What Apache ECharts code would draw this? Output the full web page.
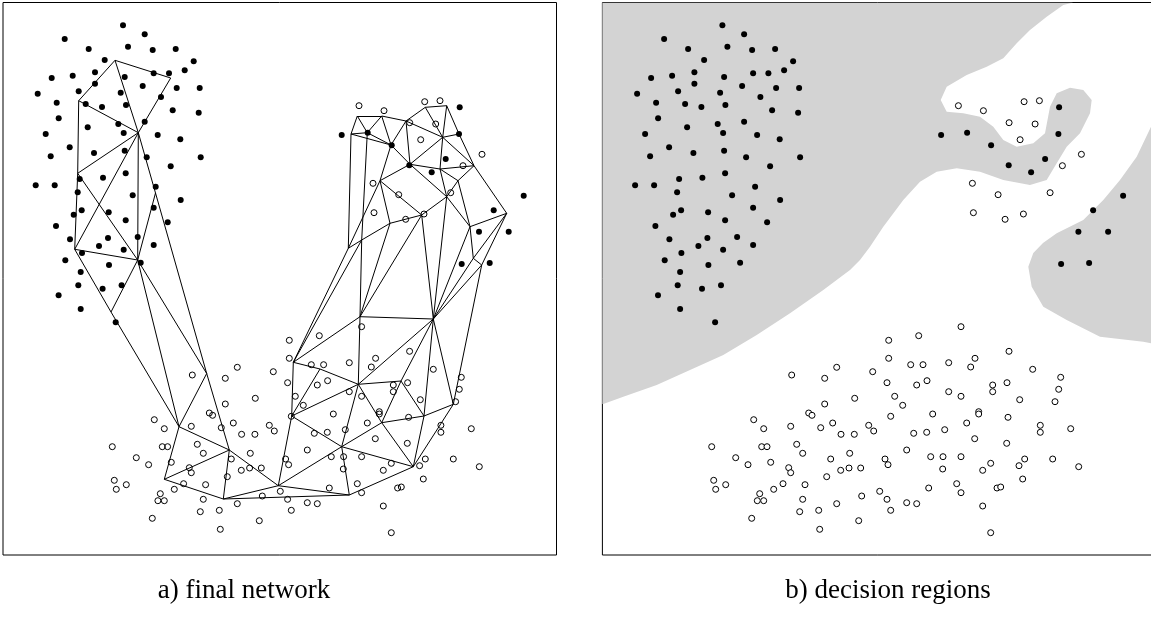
<!DOCTYPE html>
<html><head><meta charset="utf-8">
<script src="https://cdn.jsdelivr.net/npm/echarts@6/dist/echarts.min.js"></script>
<style>html,body{margin:0;padding:0;background:#fff}#chart{width:1151px;height:635px}</style>
</head><body><div id="chart"></div>
<script>
// Coordinates are in the data space of one panel (x: 3..556.5, y: 2.5..555, y downwards)
const xRange = [3, 556.5];
const yRange = [2.5, 555];

// class 1 samples (filled dots)
const filledPoints = [
[123,25.3],[144.7,34.3],[64.7,39],[88.7,49],[128,46.7],[152.7,50],[175.7,49],[104.7,60],[193.7,61.3],[51.7,78],
[72.7,75.7],[95,72.3],[124.7,77],[153.7,73.3],[169,73.3],[184.7,70.3],[37.7,93.7],[78.7,91.3],[95,83.7],[120.7,92.7],
[142.7,86],[176.7,88],[199.7,88],[56.7,102.7],[85.7,104],[102,107],[126,105],[161,97],[172.7,110.3],[198.7,112.7],
[58.7,118.3],[87.7,127.3],[118.3,124],[123.7,133],[144.7,121.7],[157.7,135],[180.3,139.3],[45.7,134],[69.7,147.3],[50.7,156.3],
[94,153],[124.7,150.7],[146.7,157.3],[170.7,166.3],[200.7,157.3],[35.7,185.3],[54.7,185.3],[79.7,179],[103,177.7],[125.7,173.3],
[77.7,192.3],[132.7,195.3],[155.7,186.7],[180.7,200],[81.7,210.3],[73.7,214.7],[108.7,212.3],[125.7,220.3],[153.7,207.7],[167.7,222.3],
[56,226],[70,239.3],[108,238],[137.7,237],[99,246],[82,253],[123.7,249.7],[153.7,245],[65.3,260.3],[140.7,262.7],
[109,265],[80.7,272],[78.3,285.3],[102.6,288.7],[121.6,285.3],[58.6,295.3],[80.7,309],[115.7,322.3],
[341.7,135],[367.7,132.7],[391.7,145.3],[409.3,165.3],[459.7,107.3],[459,134],[445.7,159],[431.7,172.3],[523.7,195.7],[493.7,210.3],
[479,231.7],[508.7,231.7],[461.7,264],[489.7,263]
];

// class 2 samples (open circles)
const openPoints = [
[359,105.7],[384,110.7],[424.7,101.7],[440,100.7],[409.7,122.7],[435.7,124],[420.7,139.7],[482,154.3],[463,165.7],[373,183.3],
[398.7,194.7],[450.7,192.7],[374,212.7],[405.7,219.3],[424,214],
[361.6,326.7],[319.3,335.7],[289.3,340.3],[409.6,351.3],[289.3,358.3],[375.6,358.3],[237.3,367.3],[311.3,364.7],[323.6,364.7],[349.3,362.7],
[371.3,367],[433.3,369.3],[192.3,375],[273.3,371.7],[225.3,378.3],[461.3,377.3],[287.6,382.7],[317.3,385],[327.6,380.7],[393.3,385],
[407.6,382.7],[349.3,391.7],[393.3,391.7],[459.3,389.3],[255.3,398.3],[295.3,396.3],[361.6,396.3],[420.3,399.7],[225.3,404],[303.3,405.3],
[455.6,401.7],[209.3,413],[212.6,415.3],[291.3,416.3],[333.3,414],[379.3,411.7],[379.3,414],[408.6,417.3],[154.3,419.7],[164.3,428.7],
[191.3,426.3],[221.3,427.7],[233.3,423],[269.3,425.3],[274.3,431],[314.3,433.3],[327.3,432.3],[345.3,429.7],[367.3,423],[440.9,425.3],
[440.9,432.3],[471.3,428.7],[241.6,434.3],[254.9,434.3],[375.3,438.7],[112.3,446.7],[162.3,446.7],[167.6,446.7],[197.3,444.3],[203.3,453.3],
[250.3,453.3],[307.3,450],[407.3,443.3],[136.3,457.7],[148.6,464.7],[171.3,462.3],[231.3,459],[285.6,459],[288.6,464.7],[331.3,456.7],
[343.6,456.7],[361.6,456.7],[391.3,463.3],[419.6,465.7],[425.3,459],[453.3,459],[479.3,466.7],[189.3,467.7],[191.3,472.7],[241.3,470.3],
[249.6,468],[261.3,468],[343.3,469],[383.3,470.3],[227.3,476.7],[114.3,480.3],[116.3,489.3],[126.3,484.7],[183.6,483.7],[205.6,484.7],
[174.3,489.3],[329.3,488],[357.3,483.7],[361.6,492.7],[397.6,488],[401.3,487],[423.3,479],[160.3,493.7],[157.9,500.7],[164.3,500.7],
[203.3,499.3],[262.3,496],[280.3,491.3],[287.6,499.3],[200.3,511.7],[219.3,510.3],[237.3,503.7],[291.3,510.3],[307.3,502.7],[317.3,503.7],
[383.3,506],[152.3,518.3],[259.3,520.7],[220.3,529.3],[391.3,532.7]
];

// network units (panel a)
const netNodes = [
[115,60.3],[170.7,78],[78.7,100.7],[138.3,132.7],[77.7,173.3],[74.7,249.3],[137.7,260],[155.5,193],
[111,312],[179,426.7],[206.7,373.5],[229.3,450],[164.3,479.3],[223.3,499],[278.3,485.7],[349.3,495],
[413.3,466.7],[341.7,446.7],[291.7,416],[293.3,362.3],[360,316.7],[433.3,319],[358.3,384.3],[401,381],
[424,416],[453.3,404.3],[381.7,422.7],[320,369],
[357.3,116],[381.7,116],[351,134],[367.3,132.7],[391,145],[406,121],[425.3,107.3],[446.7,105.7],
[442.7,137.3],[459,134],[410,164.3],[440,169],[474,165.7],[380,180.7],[458,180.7],[446.7,196.7],
[421.7,215],[506.7,213.3],[470,226.7],[473.3,258.3],[481.7,265],[361.7,240],[348.3,248.3],[390,223.3]
];
// neighbour connections between units (index pairs)
const netEdges = [
[0,1],[0,2],[0,3],[1,3],[2,3],[2,4],[3,4],[4,5],[4,6],[3,5],[3,6],[5,6],[3,7],[7,6],[7,10],
[5,8],[6,8],[8,9],[6,9],[6,10],[9,10],[10,11],[9,11],[9,12],[12,11],[12,13],[11,13],[11,14],[13,14],[13,15],
[14,15],[14,17],[14,18],[18,17],[17,15],[17,16],[15,16],[17,22],[17,26],[26,16],[26,24],[26,22],[26,23],[23,24],
[22,23],[24,16],[24,21],[24,25],[25,16],[25,21],[21,22],[20,22],[20,21],[20,19],[19,18],[18,22],[19,27],[27,22],
[18,27],[23,21],
[28,29],[28,30],[28,31],[29,31],[30,31],[30,32],[31,32],[29,32],[29,33],[33,34],[34,35],[35,37],[37,40],[33,32],
[33,38],[32,38],[34,36],[35,36],[36,37],[36,38],[36,40],[36,39],[33,36],[38,39],[39,40],[39,42],[40,42],[38,41],
[32,41],[41,44],[38,43],[39,43],[43,44],[42,43],[42,46],[43,46],[40,45],[46,45],[46,47],[45,47],[45,48],[47,48],
[31,49],[30,50],[49,50],[49,51],[41,51],[41,50],[51,44],
[19,50],[19,49],[20,49],[20,51],[20,44],[21,44],[21,43],[21,46],[21,47],[21,48],[25,48]
];

// class-1 decision regions (panel b), boundary vertices
const greyRegionMain = [
[3,2.5],[473.9,2.5],[463.9,5],[447.3,16.7],[430.6,30],[417.3,43.3],[403.9,58.3],[387.3,66.7],[367.3,75],[347.3,86.7],
[341.3,100],[347.3,111.7],[363.9,113.3],[380.6,116.7],[393.9,126.7],[403.9,140],[417.3,146.7],[433.9,143.3],[445.6,133.3],[450.6,106.7],
[457.3,93.3],[470.6,87.7],[483.9,90],[492.3,100],[490.6,113.3],[480.6,133.3],[467.3,146.7],[457.3,163.3],[447.3,180],[430.6,185],
[403.9,180],[380.6,171.7],[357.3,168.3],[337.3,171.7],[320.6,181.7],[303.9,200],[283.9,226.7],[270.6,246.7],[260.6,260],[250.6,270],
[223.9,290],[190.6,313.3],[157.3,335],[123.9,355],[90.6,370],[57.3,385],[23.9,396.7],[3.9,404],[3,404]
];
const greyRegionRight = [
[556.5,119],[551.6,126.7],[537.3,156.7],[520.6,180],[503.9,200],[483.9,220],[457.3,233.3],[443.6,243],[433.9,253],[428.9,266.7],
[432.3,286.7],[443.9,306.7],[467.3,320],[500.6,336.7],[543.9,341.7],[551.6,343.3],[556.5,344]
];
const greyRegions = [greyRegionMain, greyRegionRight];

const captions = ['a) final network', 'b) decision regions'];

const chart = echarts.init(document.getElementById('chart'), null, {renderer: 'canvas'});

const gridCommon = {top: 2.5, width: 553.5, height: 552.5, show: true, borderColor: '#000', borderWidth: 1,
  backgroundColor: 'transparent', containLabel: false, outerBoundsMode: 'none'};
function xAx(i) { return {gridIndex: i, type: 'value', min: xRange[0], max: xRange[1], show: false}; }
function yAx(i) { return {gridIndex: i, type: 'value', min: yRange[0], max: yRange[1], inverse: true, show: false}; }

function filledSeries(i) {
  return {type: 'scatter', xAxisIndex: i, yAxisIndex: i, data: filledPoints, symbol: 'circle', symbolSize: 6,
    itemStyle: {color: '#000', opacity: 1}, z: 5, silent: true};
}
function openSeries(i) {
  return {type: 'scatter', xAxisIndex: i, yAxisIndex: i, data: openPoints, symbol: 'circle', symbolSize: 6,
    itemStyle: {color: i === 0 ? 'rgba(255,255,255,0)' : '#fff', borderColor: '#000', borderWidth: 1, opacity: 1}, z: 5, silent: true};
}

const option = {
  animation: false,
  backgroundColor: '#fff',
  grid: [Object.assign({left: 3}, gridCommon), Object.assign({left: 602.4}, gridCommon)],
  xAxis: [xAx(0), xAx(1)],
  yAxis: [yAx(0), yAx(1)],
  graphic: [
    {type: 'text', x: 244, y: 591, style: {text: captions[0], font: '27px "Liberation Serif", serif', fill: '#000', align: 'center', verticalAlign: 'middle', textAlign: 'center', textVerticalAlign: 'middle'}},
    {type: 'text', x: 888, y: 591, style: {text: captions[1], font: '27px "Liberation Serif", serif', fill: '#000', align: 'center', verticalAlign: 'middle', textAlign: 'center', textVerticalAlign: 'middle'}}
  ],
  series: [
    {type: 'lines', coordinateSystem: 'cartesian2d', xAxisIndex: 0, yAxisIndex: 0, silent: true, z: 2,
      data: netEdges.map(e => ({coords: [netNodes[e[0]], netNodes[e[1]]]})),
      lineStyle: {color: '#000', width: 1, opacity: 1, curveness: 0}},
    filledSeries(0), openSeries(0),
    {type: 'custom', xAxisIndex: 1, yAxisIndex: 1, silent: true, z: 1, clip: true,
      data: greyRegions.map(r => r[0]),
      renderItem: function (params, api) {
        const pts = greyRegions[params.dataIndex].map(p => api.coord(p));
        return {type: 'polygon', shape: {points: pts}, style: {fill: '#d3d3d3', stroke: null}};
      }},
    filledSeries(1), openSeries(1)
  ]
};
chart.setOption(option);
</script>
</body></html>
